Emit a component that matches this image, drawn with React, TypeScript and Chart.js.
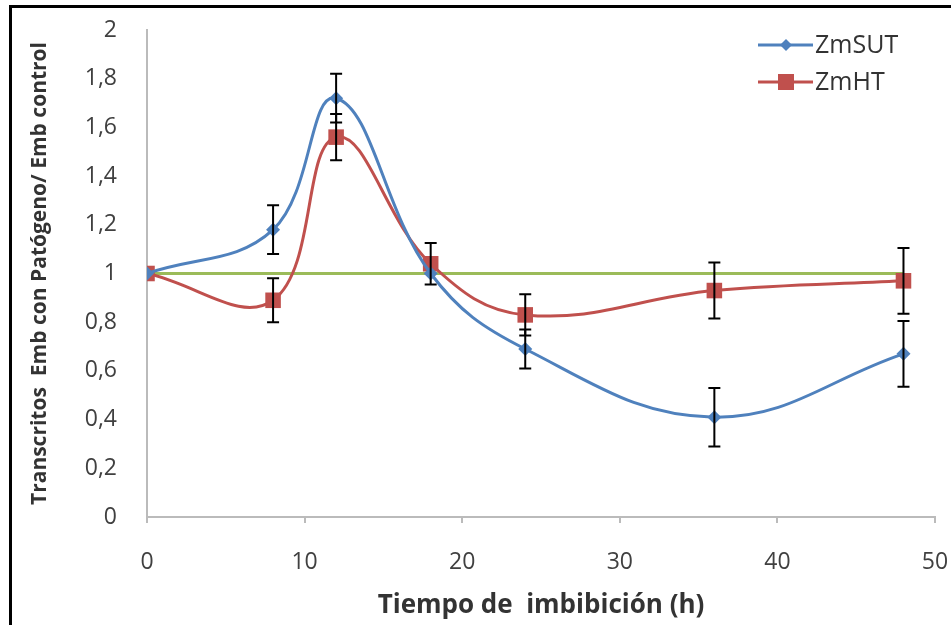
import React, { useEffect, useRef } from "react";
import { Chart, registerables } from "chart.js";

Chart.register(...registerables);

const hours = [0, 8, 12, 18, 24, 36, 48];
const zmSUT = [1, 1.18, 1.72, 1.0, 0.69, 0.41, 0.67];
const zmSUTErr = [0, 0.1, 0.1, 0, 0.08, 0.12, 0.135];
const zmHT = [1, 0.89, 1.56, 1.04, 0.83, 0.93, 0.97];
const zmHTErr = [0, 0.09, 0.095, 0.085, 0.085, 0.115, 0.135];
const controlX = [0, 48];
const controlY = [1, 1];
const seriesNames = ["ZmSUT", "ZmHT"];
const xTitle = "Tiempo de  imbibición (h)";
const yTitle = "Transcritos  Emb con Patógeno/ Emb control";

const BLUE = "#4F81BD";
const RED = "#C0504D";
const GREEN = "#9BBB59";
const FONT = "'Open Sans', 'DejaVu Sans', sans-serif";

export default function App() {
  const ref = useRef<HTMLCanvasElement | null>(null);

  useEffect(() => {
    if (!ref.current) return;
    const errorPlugin = {
      id: "errorBars",
      afterDatasetsDraw(chart: any) {
        const ctx = chart.ctx;
        const xs = chart.scales.x;
        const ys = chart.scales.y;
        const sets = [
          { v: zmSUT, e: zmSUTErr },
          { v: zmHT, e: zmHTErr },
        ];
        ctx.save();
        ctx.strokeStyle = "#000";
        ctx.lineWidth = 2;
        sets.forEach((s) => {
          hours.forEach((h, i) => {
            const err = s.e[i];
            if (!err) return;
            const px = xs.getPixelForValue(h);
            const top = ys.getPixelForValue(s.v[i] + err);
            const bot = ys.getPixelForValue(s.v[i] - err);
            ctx.beginPath();
            ctx.moveTo(px, top);
            ctx.lineTo(px, bot);
            ctx.moveTo(px - 6, top);
            ctx.lineTo(px + 6, top);
            ctx.moveTo(px - 6, bot);
            ctx.lineTo(px + 6, bot);
            ctx.stroke();
          });
        });
        ctx.restore();
      },
    };
    const legendPlugin = {
      id: "customLegend",
      afterDraw(chart: any) {
        const ctx = chart.ctx;
        const items = [
          { name: seriesNames[0], color: BLUE, style: "diamond", y: 45 },
          { name: seriesNames[1], color: RED, style: "square", y: 82 },
        ];
        ctx.save();
        items.forEach((it) => {
          ctx.strokeStyle = it.color;
          ctx.lineWidth = 3;
          ctx.beginPath();
          ctx.moveTo(758, it.y);
          ctx.lineTo(813, it.y);
          ctx.stroke();
          ctx.fillStyle = it.color;
          ctx.beginPath();
          if (it.style === "diamond") {
            ctx.moveTo(786, it.y - 6);
            ctx.lineTo(792, it.y);
            ctx.lineTo(786, it.y + 6);
            ctx.lineTo(780, it.y);
            ctx.closePath();
          } else {
            ctx.rect(778, it.y - 8, 16, 16);
          }
          ctx.fill();
          ctx.fillStyle = "#333";
          ctx.font = `25px ${FONT}`;
          ctx.textBaseline = "middle";
          ctx.textAlign = "left";
          ctx.fillText(it.name, 815, it.y + 1);
        });
        ctx.restore();
      },
    };

    const chart = new Chart(ref.current, {
      type: "line",
      data: {
        datasets: [
          {
            label: "control",
            data: controlX.map((x, i) => ({ x, y: controlY[i] })),
            borderColor: GREEN,
            borderWidth: 3,
            pointRadius: 0,
            tension: 0,
            order: 3,
          },
          {
            label: seriesNames[1],
            data: hours.map((x, i) => ({ x, y: zmHT[i] })),
            borderColor: RED,
            backgroundColor: RED,
            borderWidth: 3,
            pointStyle: "rect",
            pointRadius: 11,
            pointBorderWidth: 0,
            tension: 0.4,
            order: 2,
          },
          {
            label: seriesNames[0],
            data: hours.map((x, i) => ({ x, y: zmSUT[i] })),
            borderColor: BLUE,
            backgroundColor: BLUE,
            borderWidth: 3,
            pointStyle: "rectRot",
            pointRadius: 7,
            pointBorderWidth: 0,
            tension: 0.4,
            order: 1,
          },
        ],
      },
      options: {
        animation: false,
        responsive: false,
        devicePixelRatio: 1,
        layout: { padding: { top: 30, right: 16, left: 0, bottom: 0 } },
        plugins: { legend: { display: false }, tooltip: { enabled: false } },
        scales: {
          x: {
            type: "linear",
            min: 0,
            max: 50,
            ticks: {
              stepSize: 10,
              color: "#404040",
              font: { family: FONT, size: 23 },
              padding: 26,
            },
            grid: { drawOnChartArea: false, tickLength: 6, color: "#BBBBBB", lineWidth: 2 },
            border: { color: "#BBBBBB", width: 2 },
            title: {
              display: true,
              text: xTitle,
              color: "#333",
              font: { family: FONT, size: 26, weight: "bold" },
              padding: { top: 0, bottom: 4 },
            },
            afterFit(scale: any) {
              scale.height = 108;
              scale.paddingLeft = 0;
              scale.paddingRight = 0;
            },
          },
          y: {
            min: 0,
            max: 2,
            ticks: {
              stepSize: 0.2,
              color: "#404040",
              font: { family: FONT, size: 23 },
              padding: 30,
              callback: (v: any) => String(Math.round(Number(v) * 10) / 10).replace(".", ","),
            },
            grid: { drawOnChartArea: false, drawTicks: false },
            border: { color: "#BBBBBB", width: 2 },
            title: {
              display: true,
              text: yTitle,
              color: "#333",
              font: { family: FONT, size: 21, weight: "bold" },
              padding: { top: 27, bottom: 0 },
            },
            afterFit(scale: any) {
              scale.width = 147;
              scale.paddingTop = 0;
              scale.paddingBottom = 0;
            },
          },
        },
      },
      plugins: [errorPlugin, legendPlugin],
    });
    return () => chart.destroy();
  }, []);

  return (
    <div style={{ position: "fixed", left: 0, top: 0, width: 951, height: 625, background: "#fff", overflow: "hidden" }}>
      <canvas ref={ref} width={951} height={625} style={{ position: "absolute", left: 0, top: 0 }} />
      <div
        style={{
          position: "absolute",
          left: 9,
          top: 5,
          width: 1000,
          height: 700,
          borderLeft: "3px solid #000",
          borderTop: "3px solid #000",
          pointerEvents: "none",
        }}
      />
    </div>
  );
}
